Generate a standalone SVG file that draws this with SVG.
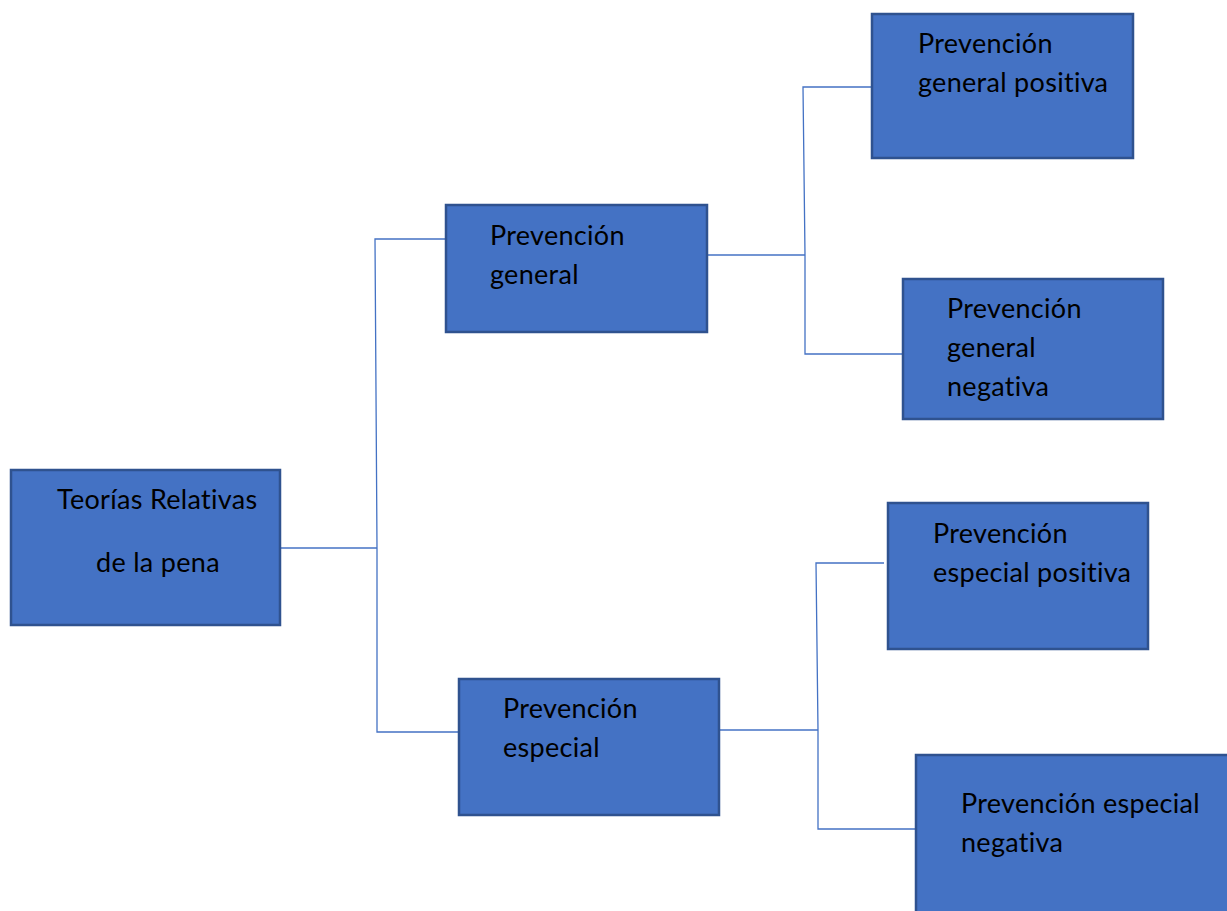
<svg xmlns="http://www.w3.org/2000/svg" width="1227" height="911" viewBox="0 0 1227 911">
<style>
.box{fill:#4472C4;stroke:#2F528F;stroke-width:2.5}
.t{font-family:Lato,"Liberation Sans",sans-serif;font-size:27px;letter-spacing:0.3px;fill:#000}
.c{fill:none;stroke:#4472C4;stroke-width:1.3}
</style>
<rect width="1227" height="911" fill="#fff"/>
<g id="connectors">
<polyline class="c" points="280,548 377,548"/>
<polyline class="c" points="446,239 375,239 377,548 377,732 459,732"/>
<polyline class="c" points="707,255 805,255"/>
<polyline class="c" points="872,87 803,87 805,255 805,354 903,354"/>
<polyline class="c" points="719,730 818,730"/>
<polyline class="c" points="884,563 816,563 818,730 818,829 916,829"/>
</g>
<g id="root">
<rect class="box" x="11" y="470" width="269" height="155"/>
<text class="t" x="57" y="509">Teorías Relativas</text>
<text class="t" x="96" y="572">de la pena</text>
</g>
<g id="pg">
<rect class="box" x="446" y="205" width="261" height="127"/>
<text class="t" x="490" y="245">Prevención</text>
<text class="t" x="490" y="284">general</text>
</g>
<g id="pe">
<rect class="box" x="459" y="679" width="260" height="136"/>
<text class="t" x="503" y="718">Prevención</text>
<text class="t" x="503" y="757">especial</text>
</g>
<g id="pgp">
<rect class="box" x="872" y="14" width="261" height="144"/>
<text class="t" x="918" y="53">Prevención</text>
<text class="t" x="918" y="92">general positiva</text>
</g>
<g id="pgn">
<rect class="box" x="903" y="279" width="260" height="140"/>
<text class="t" x="947" y="318">Prevención</text>
<text class="t" x="947" y="357">general</text>
<text class="t" x="947" y="396">negativa</text>
</g>
<g id="pep">
<rect class="box" x="888" y="503" width="260" height="146"/>
<text class="t" x="933" y="543">Prevención</text>
<text class="t" x="933" y="582">especial positiva</text>
</g>
<g id="pen">
<rect class="box" x="916" y="755" width="320" height="170"/>
<text class="t" x="961" y="813">Prevención especial</text>
<text class="t" x="961" y="852">negativa</text>
</g>
</svg>
